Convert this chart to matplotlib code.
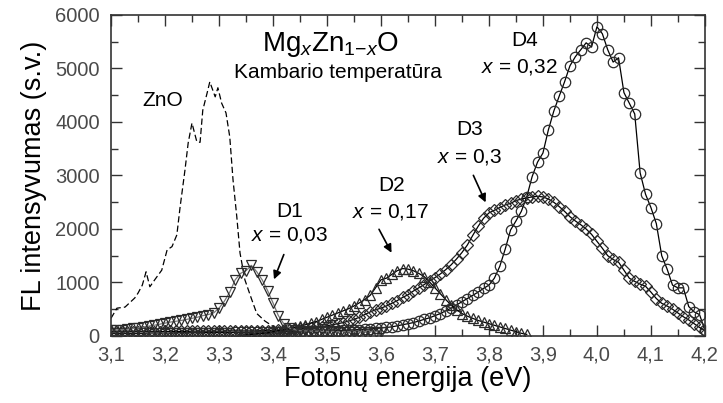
import numpy as np
import matplotlib
matplotlib.use("Agg")
import matplotlib.pyplot as plt
from matplotlib.ticker import MultipleLocator, FuncFormatter

plt.rcParams['font.family'] = ['Liberation Sans', 'DejaVu Sans']
plt.rcParams['mathtext.fontset'] = 'custom'
plt.rcParams['mathtext.rm'] = 'Liberation Sans'
plt.rcParams['mathtext.it'] = 'Liberation Sans:italic'

# ZnO reference spectrum (dashed line)
zno_e = [3.100, 3.111, 3.126, 3.144, 3.150, 3.158, 3.165, 3.172, 3.181, 3.194,
         3.204, 3.213, 3.222, 3.228, 3.237, 3.243, 3.250, 3.259, 3.265, 3.270,
         3.278, 3.283, 3.293, 3.298, 3.305, 3.313, 3.320, 3.326, 3.333, 3.339,
         3.348, 3.360, 3.370, 3.385, 3.400, 3.410]
zno_i = [330, 520, 540, 710, 800, 950, 1200, 920, 1050, 1230,
         1610, 1670, 1890, 2410, 3100, 3610, 3980, 3630, 3620, 4220,
         4540, 4750, 4470, 4640, 4350, 4170, 3720, 2920, 2230, 1550,
         1050, 700, 420, 280, 180, 60]

# D1, x = 0,03
d1_e = np.round(np.arange(3.10, 3.605, 0.01), 2)
d1_i = [110, 115, 120, 125, 140, 150, 165, 185, 200, 220,
        240, 260, 275, 290, 310, 330, 350, 380, 400, 430,
        520, 650, 820, 1050, 1170, 1220, 1320, 1200, 1050, 850,
        620, 380, 230, 150, 120, 100, 95, 90, 90, 85,
        85, 85, 80, 80, 80, 80, 80, 80, 80, 80, 80]

# D2, x = 0,17
d2_e = np.round(np.arange(3.34, 3.875, 0.01), 2)
d2_i = [10, 20, 30, 40, 50, 60, 80, 100, 120, 140,
        160, 180, 210, 240, 270, 310, 350, 390, 430, 470,
        510, 560, 620, 680, 760, 900, 1050, 1080, 1150, 1220,
        1260, 1250, 1220, 1170, 1110, 1010, 900, 790, 680, 580,
        490, 420, 370, 330, 290, 260, 230, 200, 170, 140,
        110, 80, 50, 30]

# D3, x = 0,3
d3_e = np.round(np.arange(3.10, 4.205, 0.01), 2)
d3_i = [80, 80, 80, 80, 80, 80, 80, 80, 80, 80,
        85, 85, 85, 85, 85, 90, 90, 90, 90, 90,
        90, 90, 95, 95, 95, 95, 95, 95, 100, 100,
        100, 105, 110, 115, 120, 130, 140, 150, 160, 175,
        190, 210, 230, 250, 280, 310, 350, 400, 450, 490,
        520, 560, 610, 660, 720, 770, 840, 900, 960, 1030,
        1090, 1160, 1240, 1330, 1440, 1560, 1700, 1880, 2050, 2200,
        2300, 2350, 2400, 2450, 2480, 2530, 2560, 2580, 2600, 2610,
        2600, 2560, 2500, 2420, 2330, 2230, 2150, 2080, 2000, 1900,
        1770, 1640, 1500, 1430, 1380, 1230, 1080, 1020, 970, 930,
        820, 700, 610, 560, 500, 430, 360, 300, 230, 160,
        100]

# D4, x = 0,32
d4_e = np.round(np.arange(3.10, 4.205, 0.01), 2)
d4_i = [50, 50, 50, 50, 50, 50, 50, 55, 55, 55,
        55, 55, 60, 60, 60, 60, 60, 60, 65, 65,
        65, 65, 65, 70, 70, 70, 70, 75, 75, 75,
        75, 75, 80, 80, 80, 80, 80, 85, 85, 85,
        90, 95, 100, 105, 110, 115, 120, 125, 130, 140,
        150, 160, 170, 190, 210, 230, 250, 280, 310, 340,
        380, 420, 470, 520, 580, 640, 700, 760, 820, 890,
        950, 1080, 1300, 1620, 1980, 2150, 2330, 2600, 2980, 3250,
        3420, 3850, 4200, 4480, 4750, 5050, 5220, 5350, 5480, 5400,
        5780, 5650, 5350, 5120, 5200, 4550, 4350, 4150, 3050, 2650,
        2400, 2100, 1500, 1250, 950, 900, 900, 550, 450, 400,
        110]

x_ticks = [3.1, 3.2, 3.3, 3.4, 3.5, 3.6, 3.7, 3.8, 3.9, 4.0, 4.1, 4.2]
y_ticks = [0, 1000, 2000, 3000, 4000, 5000, 6000]

fig = plt.figure(figsize=(7.23, 4.03), dpi=100)
ax = fig.add_axes([0.1535, 0.1663, 0.8215, 0.7965])

mk = dict(markerfacecolor='none', markeredgewidth=0.9, linewidth=0.9)
ax.plot(zno_e, zno_i, color='black', linewidth=0.9, dashes=(5, 2.5))
ax.plot(d4_e, d4_i, color='black', marker='o', markersize=7.5,
        markeredgecolor='#2a2a2a', **mk)
ax.plot(d3_e, d3_i, color='black', marker='D', markersize=6.0,
        markeredgecolor='#2a2a2a', **mk)
ax.plot(d2_e, d2_i, color='black', marker='^', markersize=7.5,
        markeredgecolor='#2a2a2a', **mk)
ax.plot(d1_e, d1_i, color='#777777', marker='v', markersize=7.5,
        markeredgecolor='#2a2a2a', **mk)

ax.set_xlim(3.1, 4.2)
ax.set_ylim(0, 6000)
ax.set_xticks(x_ticks)
ax.set_yticks(y_ticks)
ax.xaxis.set_minor_locator(MultipleLocator(0.05))
ax.yaxis.set_minor_locator(MultipleLocator(500))
ax.xaxis.set_major_formatter(FuncFormatter(lambda v, p: f"{v:.1f}".replace('.', ',')))
ax.tick_params(which='both', direction='in', top=True, right=True,
               colors='#333333', labelcolor='#4a4a4a', labelsize=14.5, width=1.0)
ax.tick_params(which='major', length=8)
ax.tick_params(which='minor', length=5)
ax.tick_params(axis='x', pad=7)
ax.tick_params(axis='y', pad=8)
for s in ax.spines.values():
    s.set_linewidth(1.2)
    s.set_color('#333333')

ax.set_xlabel('Fotonų energija (eV)', fontsize=19.5, labelpad=1)
ax.set_ylabel('FL intensyvumas (s.v.)', fontsize=19.5, labelpad=6)

ax.text(3.506, 5440, r'Mg$_x$Zn$_{1{-}x}$O', fontsize=20, ha='center', va='center')
ax.text(3.52, 4930, 'Kambario temperatūra', fontsize=15, ha='center', va='center')
ax.text(3.196, 4410, 'ZnO', fontsize=15, ha='center', va='center')
ax.text(3.431, 2320, 'D1', fontsize=15, ha='center', va='center')
ax.text(3.43, 1890, r'$x$ = 0,03', fontsize=15, ha='center', va='center')
ax.text(3.62, 2820, 'D2', fontsize=15, ha='center', va='center')
ax.text(3.617, 2320, r'$x$ = 0,17', fontsize=15, ha='center', va='center')
ax.text(3.765, 3860, 'D3', fontsize=15, ha='center', va='center')
ax.text(3.765, 3350, r'$x$ = 0,3', fontsize=15, ha='center', va='center')
ax.text(3.867, 5530, 'D4', fontsize=15, ha='center', va='center')
ax.text(3.857, 5030, r'$x$ = 0,32', fontsize=15, ha='center', va='center')

arrow = dict(arrowstyle='-|>', color='black', lw=1.2, mutation_scale=12)
ax.annotate('', xy=(3.40, 1010), xytext=(3.422, 1570), arrowprops=arrow)
ax.annotate('', xy=(3.622, 1510), xytext=(3.594, 2040), arrowprops=arrow)
ax.annotate('', xy=(3.796, 2450), xytext=(3.769, 3050), arrowprops=arrow)

fig.savefig('out.png', dpi=100)
